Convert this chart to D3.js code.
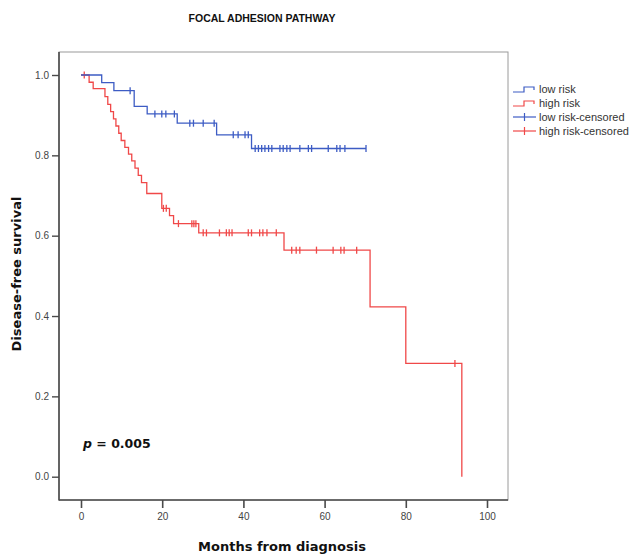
<!DOCTYPE html>
<html><head><meta charset="utf-8">
<script src="https://cdn.jsdelivr.net/npm/d3@7"></script>
<style>body{margin:0;background:#fff}svg{display:block}</style>
</head><body><svg id="c" width="636" height="559"></svg>
<script>
// ---- data ----
const xTicks = [0, 20, 40, 60, 80, 100];
const yTicks = [0.0, 0.2, 0.4, 0.6, 0.8, 1.0];
const seriesNames = ["low risk", "high risk", "low risk-censored", "high risk-censored"];
// step points: [month, survival after event]
const lowSteps = [[0,1.0],[5.1,0.981],[8.1,0.961],[13.1,0.922],[16.3,0.903],[23.7,0.880],[33.4,0.851],[42.0,0.817],[70.2,0.817]];
const lowCensored = [12.1, 18.2, 19.9, 20.9, 23.0, 26.8, 27.7, 30.1, 32.8, 37.5, 38.7, 40.4, 41.2,
  42.9, 43.7, 44.5, 45.3, 46.2, 47.0, 49.0, 49.8, 50.7, 51.5, 53.9, 56.0, 56.8, 60.9, 63.0, 63.8, 65.0, 70.2];
const highSteps = [[0,1.0],[2.0,0.982],[3.0,0.966],[5.9,0.946],[6.6,0.927],[7.3,0.909],[8.0,0.891],[8.6,0.873],
  [9.3,0.855],[9.9,0.837],[10.8,0.820],[11.7,0.803],[12.5,0.786],[13.3,0.768],[14.1,0.750],[14.9,0.732],
  [16.2,0.705],[19.9,0.668],[21.8,0.650],[22.8,0.630],[29.0,0.607],[50.0,0.564],[71.2,0.423],[80.0,0.282],[93.8,0.0]];
const highCensored = [0.8, 20.3, 21.0, 24.0, 27.3, 27.8, 28.3, 30.1, 30.9, 34.1, 35.8, 36.5, 37.2, 41.2, 42.0,
  44.0, 44.8, 45.8, 48.1, 51.9, 53.0, 53.9, 58.0, 62.1, 64.0, 64.8, 67.9, 92.1];

const blue = "#3d5cc4", red = "#f04848", axisCol = "#4a4a4a";
const svg = d3.select("#c");
const frame = {l: 59, r: 508, t: 52, b: 500};
const x = d3.scaleLinear().domain([0, 100]).range([81, 487]);
const y = d3.scaleLinear().domain([0, 1]).range([476.7, 75]);

function survAt(steps, t) {
  let v = steps[0][1];
  for (const s of steps) { if (s[0] <= t) v = s[1]; }
  return v;
}

// frame
svg.append("rect").attr("x", frame.l).attr("y", frame.t).attr("width", frame.r - frame.l)
  .attr("height", frame.b - frame.t).attr("fill", "none").attr("stroke", "#9a9a9a").attr("stroke-width", 1);
svg.append("line").attr("x1", frame.l).attr("x2", frame.l).attr("y1", frame.t).attr("y2", frame.b + 0.5)
  .attr("stroke", axisCol).attr("stroke-width", 1.6);
svg.append("line").attr("x1", frame.l).attr("x2", frame.r).attr("y1", frame.b).attr("y2", frame.b)
  .attr("stroke", axisCol).attr("stroke-width", 1.6);

// axes
const tickFont = "10px 'Liberation Sans', Arial, sans-serif";
const xAxis = d3.axisBottom(x).tickValues(xTicks).tickSize(8).tickPadding(5).tickFormat(d3.format("d"));
const gx = svg.append("g").attr("transform", `translate(0,${frame.b})`).call(xAxis);
gx.select(".domain").remove();
gx.selectAll("line").attr("stroke", axisCol).attr("stroke-width", 1.6);
gx.selectAll("text").attr("fill", "#444").style("font", tickFont);

const yAxis = d3.axisLeft(y).tickValues(yTicks).tickSize(7).tickPadding(3).tickFormat(d3.format(".1f"));
const gy = svg.append("g").attr("transform", `translate(${frame.l},0)`).call(yAxis);
gy.select(".domain").remove();
gy.selectAll("line").attr("stroke", axisCol).attr("stroke-width", 1.4);
gy.selectAll("text").attr("fill", "#444").style("font", tickFont);

// curves
const line = d3.line().x(d => x(d[0])).y(d => y(d[1])).curve(d3.curveStepAfter);
function drawGroup(steps, cens, col) {
  svg.append("path").datum(steps).attr("d", line).attr("fill", "none")
    .attr("stroke", col).attr("stroke-width", 1.3);
  svg.append("g").selectAll("line").data(cens).join("line")
    .attr("x1", d => x(d)).attr("x2", d => x(d))
    .attr("y1", d => y(survAt(steps, d)) - 3.5).attr("y2", d => y(survAt(steps, d)) + 3.5)
    .attr("stroke", col).attr("stroke-width", 1.3);
}
drawGroup(highSteps, highCensored, red);
drawGroup(lowSteps, lowCensored, blue);

// titles
const boldFont = "'DejaVu Sans', Verdana, sans-serif";
svg.append("text").attr("x", 262).attr("y", 22).attr("text-anchor", "middle")
  .style("font", "bold 10.5px 'Liberation Sans', Arial, sans-serif").attr("fill", "#111")
  .text("FOCAL ADHESION PATHWAY");
svg.append("text").attr("x", 282).attr("y", 551).attr("text-anchor", "middle")
  .style("font", `bold 13px ${boldFont}`).attr("fill", "#111")
  .text("Months from diagnosis");
svg.append("text").attr("transform", "translate(21,274) rotate(-90)").attr("text-anchor", "middle")
  .style("font", `bold 13px ${boldFont}`).attr("fill", "#111")
  .text("Disease-free survival");
const pt = svg.append("text").attr("x", 83).attr("y", 448)
  .style("font", `bold 12.5px ${boldFont}`).attr("fill", "#111");
pt.append("tspan").style("font-style", "italic").text("p");
pt.append("tspan").text(" = 0.005");

// legend
const legY = [89, 103, 117, 131];
const legCols = [blue, red, blue, red];
const lg = svg.append("g");
seriesNames.forEach((name, i) => {
  const yy = legY[i];
  if (i < 2) {
    lg.append("path").attr("d", `M513,${yy + 3}H524V${yy - 2}H534V${yy + 1}`)
      .attr("fill", "none").attr("stroke", legCols[i]).attr("stroke-width", 1.2);
  } else {
    lg.append("line").attr("x1", 513).attr("x2", 536).attr("y1", yy).attr("y2", yy)
      .attr("stroke", legCols[i]).attr("stroke-width", 1.2);
    lg.append("line").attr("x1", 524.5).attr("x2", 524.5).attr("y1", yy - 4).attr("y2", yy + 4)
      .attr("stroke", legCols[i]).attr("stroke-width", 1.2);
  }
  lg.append("text").attr("x", 539).attr("y", yy + 3.5)
    .style("font", "11px 'Liberation Sans', Arial, sans-serif").attr("fill", "#333").text(name);
});
</script></body></html>
